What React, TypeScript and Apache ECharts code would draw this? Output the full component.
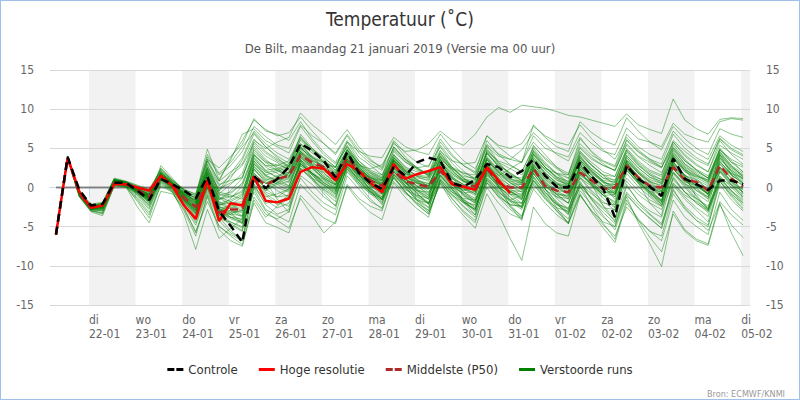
import React, { useEffect, useRef } from "react";
import * as echarts from "echarts";

// ---- time base: points every 6 h from 21-01 07:00 (local) ----
const firstHour = 7;
const stepHours = 6;

// ---- x axis day ticks (days since 21-01 00:00) ----
const tickDays = [1, 2, 3, 4, 5, 6, 7, 8, 9, 10, 11, 12, 13, 14, 15];
const dayNames = ["di", "wo", "do", "vr", "za", "zo", "ma", "di", "wo", "do", "vr", "za", "zo", "ma", "di"];
const dayDates = ["22-01", "23-01", "24-01", "25-01", "26-01", "27-01", "28-01", "29-01", "30-01", "31-01", "01-02", "02-02", "03-02", "04-02", "05-02"];
const shadedDays = [1, 3, 5, 7, 9, 11, 13, 15];

// ---- main lines ----
const controle = [-6.0, 3.9, -0.3, -2.3, -2.1, 0.6, 0.6, -0.4, -1.6, 1.1, 0.4, -0.4, -1.4, 1.4, -3.0, -4.9, -7.0, 1.5, -0.1, 1.1, 2.6, 5.6, 4.7, 3.4, 1.3, 4.5, 1.9, 0.6, -0.2, 2.6, 1.5, 3.2, 3.8, 3.4, 0.6, 0.1, 1.0, 3.0, 2.6, 1.3, 2.1, 3.6, 1.5, 0.1, 0.0, 3.2, 1.4, -0.2, -3.8, 2.8, 1.1, 0.1, -1.1, 3.7, 1.1, 0.4, -0.3, 0.9, 0.9, 0.4];
const hogeResolutie = [-6.0, 3.8, -0.5, -2.6, -2.3, 0.4, 0.4, 0.0, -0.4, 1.5, 0.2, -2.3, -4.0, 0.9, -4.3, -2.0, -2.3, 1.4, -1.7, -1.9, -1.4, 2.0, 2.6, 2.4, 0.9, 3.0, 2.1, 0.6, -0.6, 3.0, 1.1, 1.7, 2.1, 2.6, 0.4, 0.1, -0.3, 2.6, 0.9, -0.7];
const middelste = [-6.0, 3.8, -0.8, -2.5, -2.3, 0.6, 0.5, -0.3, -1.2, 1.3, 0.2, -1.3, -2.5, 0.8, -3.2, -2.8, -2.8, 1.5, 0.3, 1.1, 1.5, 4.1, 3.2, 2.6, 1.1, 3.8, 2.1, 0.9, 0.2, 2.1, 0.8, 0.4, 0.1, 2.1, 0.6, 0.1, 0.2, 2.4, 0.6, 0.0, 0.0, 2.4, 0.2, -0.4, -0.6, 1.9, 0.9, -0.2, 0.0, 2.8, 1.3, 0.2, 0.0, 2.6, 1.0, 0.7, -0.4, 2.8, 1.1, 0.1];

// ---- perturbed ensemble members ----
const run01 = [-6, 3.9, -0.6, -2.4, -2.2, 0.9, 0.6, -0.2, -0.8, 1.6, 0.4, -0.8, -1.2, 2.5, -0.5, 1.2, 3.5, 6.8, 5.2, 4.0, 3.1, 6.5, 4.8, 3.2, 2.5, 5.4, 3.0, 1.4, 0.8, 4.1, 2.2, 1.0, 0.2, 3.5, 1.3, 0.4, -0.6, 2.8, 1.5, 2.4, 3.3, 5.8, 4.2, 2.6, 1.1, 4.6, 2.9, 1.5, 0.3, 3.9, 2.0, 0.8, -0.4, 3.1, 1.6, 0.6, -0.8, 2.5, 1.8, 1.2];
const run02 = [-6, 3.8, -1.0, -2.8, -2.9, 0.5, 0.3, -0.6, -2.0, 1.0, -0.2, -2.0, -4.5, -0.5, -3.8, -5.5, -6.8, -1.2, -3.4, -4.0, -3.1, 1.5, 0.4, -1.2, -2.3, 2.0, 0.3, -1.5, -2.8, 1.4, -0.5, -2.1, -3.4, 0.8, -1.0, -2.5, -3.8, 1.2, -0.2, -1.6, -2.4, 2.3, 0.6, -0.9, -2.0, 2.8, 1.2, 0.1, -1.2, 3.5, 1.8, 0.4, -0.9, 4.2, 2.5, 1.1, -0.3, 3.8, 2.0, 0.5];
const run03 = [-6, 4.0, -0.4, -2.1, -1.9, 1.2, 0.8, 0.3, -0.2, 2.2, 0.8, -0.3, -0.8, 3.6, 2.5, 4.0, 5.5, 8.8, 7.2, 6.8, 6.0, 8.4, 6.2, 4.5, 3.2, 6.0, 3.9, 2.8, 1.6, 5.2, 3.5, 2.4, 1.5, 4.8, 2.6, 1.2, 0.4, 4.3, 2.8, 1.9, 0.9, 4.8, 3.0, 1.7, 0.5, 3.2, 1.6, 0.2, -1.5, 2.4, 0.9, -0.6, -2.2, 1.8, 0.4, -1.0, -2.8, 1.2, 0.3, -0.9];
const run04 = [-6, 3.8, -1.2, -3.1, -3.6, 0.2, 0.1, -2.5, -4.5, -0.5, -0.8, -2.8, -5.6, -1.8, -4.9, -6.2, -7.3, -2.0, -4.5, -5.1, -5.8, -1.0, -2.6, -3.9, -4.6, 0.2, -1.8, -3.2, -4.1, 0.6, -1.3, -2.7, -3.8, 1.1, -0.6, -2.0, -2.9, 2.0, 0.5, -0.8, -1.6, 2.6, 1.0, -0.4, -1.3, 3.0, 1.5, 0.3, -0.8, 3.4, 1.9, 0.6, -0.5, 2.9, 1.3, -0.2, -1.4, 2.1, 0.8, -0.6];
const run05 = [-6, 3.9, -0.9, -2.6, -2.4, 0.7, 0.5, -0.5, -1.5, 2.8, 1.2, -0.5, -2.0, 1.8, -1.5, -0.8, 0.6, 4.5, 3.2, 2.9, 2.4, 5.1, 3.6, 2.3, 1.2, 4.6, 2.5, 1.3, 0.6, 3.2, 1.5, 0.5, -0.6, 2.4, 0.8, -0.5, -1.8, 1.6, 0.2, -1.2, -2.6, 0.9, -0.8, -2.1, -3.5, 0.4, -1.4, -2.8, -4.2, -0.6, -2.2, -3.5, -4.8, 0.3, -1.5, -2.9, -4.4, 1.0, -0.7, -2.3];
const run06 = [-6, 3.9, -0.7, -2.5, -2.6, 0.8, 0.4, -0.4, -1.0, 1.8, 0.5, -1.2, -3.2, 0.6, -2.8, -3.5, -4.2, 1.8, 0.5, 1.2, 2.8, 6.2, 5.0, 3.8, 2.6, 5.8, 3.4, 2.0, 1.2, 4.6, 3.2, 2.5, 2.8, 5.2, 3.1, 1.6, 1.0, 5.5, 4.3, 3.6, 4.8, 7.0, 5.6, 4.2, 3.4, 6.4, 4.5, 3.0, 2.1, 5.6, 4.0, 3.2, 2.5, 6.0, 4.6, 3.5, 2.8, 6.3, 5.0, 4.2];
const run07 = [-6, 3.8, -1.1, -3.0, -3.2, 0.3, 0.2, -1.8, -3.9, 0.4, -0.5, -3.5, -7.9, -2.8, -6.5, -5.2, -4.0, 2.2, 0.8, -1.5, -3.2, 2.5, 1.0, -0.8, -2.4, 3.0, 1.2, 0.0, -1.5, 2.6, 0.8, -0.7, -2.2, 2.0, 0.1, -1.6, -3.1, 1.5, -0.4, -2.2, -3.8, 1.8, -0.2, -1.8, -3.2, 2.4, 0.6, -1.0, -2.5, 3.2, 1.5, -0.2, -1.8, 4.0, 2.2, 0.5, -1.0, 4.5, 2.8, 1.3];
const run08 = [-6, 3.9, -0.5, -2.3, -2.0, 1.0, 0.7, 0.1, -0.5, 2.0, 0.6, -0.6, -1.0, 4.9, 1.0, 3.5, 6.8, 7.5, 6.0, 5.2, 4.4, 7.8, 5.9, 4.2, 3.0, 5.2, 2.8, 1.0, -0.2, 3.4, 1.6, 0.2, -1.0, 2.2, 0.5, -1.1, -2.0, 2.6, 1.0, -0.5, -1.4, 3.4, 1.8, 0.6, -0.4, 4.0, 2.4, 1.2, 0.6, 4.8, 3.0, 1.8, 1.0, 5.5, 3.6, 2.2, 1.2, 5.0, 3.4, 2.0];
const run09 = [-6, 3.8, -0.8, -2.7, -2.8, 0.6, 0.3, -0.8, -2.2, 1.2, 0.0, -1.8, -3.8, 0.2, -3.4, -4.4, -5.0, 0.8, -1.0, -2.2, -1.5, 3.1, 1.6, 0.3, -0.6, 3.4, 1.2, -0.2, -1.6, 2.1, 0.2, -1.8, -3.2, 0.6, -1.9, -3.6, -5.2, -0.8, -3.4, -6.5, -9.3, -2.5, -4.6, -5.8, -6.2, -1.0, -3.0, -4.4, -5.0, 0.2, -1.8, -3.0, -3.8, 1.4, -0.6, -2.0, -3.0, 2.0, 0.4, -1.2];
const run10 = [-6, 3.9, -0.6, -2.4, -2.3, 0.9, 0.6, -0.1, -0.9, 1.7, 0.5, -0.9, -1.6, 2.8, 0.2, 1.5, 2.8, 5.6, 4.0, 3.2, 2.2, 4.8, 3.2, 2.0, 1.5, 4.4, 2.8, 2.4, 2.9, 5.6, 4.6, 4.8, 5.6, 7.2, 6.0, 5.4, 6.8, 9.0, 10.2, 9.6, 10.5, 10.3, 10.1, 9.7, 9.2, 9.0, 8.6, 8.2, 7.8, 9.4, 8.0, 7.4, 6.9, 11.3, 8.6, 7.5, 6.8, 8.7, 8.9, 8.8];
const run11 = [-6, 3.8, -0.9, -2.6, -2.5, 0.6, 0.4, -0.3, -1.3, 1.4, 0.2, -1.4, -2.6, 1.2, -2.0, -2.8, -3.6, 3.2, 1.5, 0.9, 1.8, 5.5, 3.8, 2.5, 1.6, 4.0, 2.2, 0.8, 0.2, 3.6, 2.0, 1.0, 0.5, 3.0, 1.4, 0.3, -0.4, 3.5, 1.8, 0.6, -0.3, 2.8, 1.2, 0.0, -0.9, 1.9, 0.4, -1.0, -2.2, 2.6, 0.8, -0.6, -1.6, 3.3, 1.4, 0.2, -0.6, 2.6, 1.2, 0.3];
const run12 = [-6, 3.9, -0.8, -2.5, -2.4, 0.8, 0.5, -0.4, -1.4, 1.5, 0.3, -1.1, -2.2, 2.0, -1.2, -1.8, -2.4, 4.2, 2.6, 1.8, 0.9, 4.0, 2.4, 1.0, 0.1, 3.2, 1.4, -0.2, -1.2, 2.4, 0.7, -0.8, -1.9, 1.8, 0.0, -1.5, -2.6, 2.2, 0.6, -0.9, -2.0, 2.0, 0.3, -1.4, -2.8, 1.2, -0.6, -2.3, -3.9, 0.4, -1.8, -3.4, -4.6, -0.2, -2.6, -4.2, -5.5, -2.0, -5.8, -8.7];
const run13 = [-6, 3.8, -1.0, -2.9, -3.0, 0.4, 0.2, -1.0, -2.6, 0.8, -0.4, -2.4, -4.8, -0.8, -4.2, -5.8, -6.5, -0.2, -2.8, -3.6, -4.4, 0.4, -1.2, -2.6, -3.5, 1.5, -0.2, -1.8, -2.6, 1.8, 0.2, -1.1, -2.0, 2.4, 0.6, -0.9, -1.8, 2.9, 1.1, -0.6, -1.5, 1.8, -0.1, -2.0, -3.4, 0.8, -1.5, -3.6, -5.4, -1.2, -4.5, -7.2, -10.1, -3.0, -5.4, -6.6, -7.2, -1.8, -3.5, -4.8];
const run14 = [-6, 3.9, -0.7, -2.4, -2.3, 1.0, 0.7, -0.1, -1.1, 1.9, 0.7, -0.7, -1.8, 3.0, -0.6, -1.0, -1.5, 5.0, 3.4, 2.6, 1.8, 4.6, 3.0, 1.6, 0.8, 3.8, 1.8, 0.4, -0.6, 2.9, 1.2, -0.3, -1.3, 2.7, 0.9, -0.6, -1.4, 3.8, 2.2, 1.1, 0.4, 4.2, 2.6, 1.4, 0.5, 3.6, 2.0, 0.8, -0.3, 3.0, 1.3, 0.0, -1.0, 2.6, 0.9, -0.4, -1.5, 3.3, 1.6, 0.6];
const run15 = [-6, 3.8, -0.9, -2.7, -2.7, 0.5, 0.3, -0.7, -1.8, 1.1, 0.0, -1.6, -3.0, 1.0, -2.5, -3.2, -4.6, -0.6, -3.0, -4.2, -5.2, -1.4, -3.6, -5.8, -4.4, 0.4, -1.4, -2.4, -3.0, 1.6, 0.0, -1.4, -2.5, 1.3, -0.4, -1.9, -2.8, 2.4, 0.9, -0.5, -1.2, 3.0, 1.5, 0.2, -0.7, 3.5, 1.9, 0.7, 0.0, 4.1, 2.5, 1.3, 0.5, 4.8, 3.0, 1.8, 0.9, 4.4, 2.6, 1.5];
const run16 = [-6, 3.9, -0.6, -2.3, -2.1, 1.1, 0.8, 0.2, -0.3, 2.3, 0.9, -0.2, -0.9, 3.9, 1.6, 2.8, 4.6, 7.8, 6.5, 5.4, 5.0, 8.0, 6.6, 5.6, 4.2, 6.6, 4.4, 3.1, 2.2, 5.0, 3.6, 2.6, 1.6, 4.0, 2.6, 1.9, 1.2, 4.6, 3.4, 2.8, 2.0, 5.2, 3.8, 2.6, 1.8, 5.6, 4.1, 3.3, 2.6, 6.1, 4.5, 3.4, 2.6, 5.8, 4.2, 3.0, 2.0, 5.4, 4.4, 3.6];
const run17 = [-6, 3.8, -1.1, -2.9, -3.3, 0.3, 0.1, -1.4, -3.2, 0.2, -0.6, -2.6, -5.8, -1.2, -5.4, -6.8, -7.5, -1.6, -3.8, -2.4, -0.8, 2.8, 1.8, 0.6, -0.4, 3.0, 1.4, 0.2, -0.8, 2.2, 0.6, -0.6, -1.5, 1.6, -0.2, -1.6, -2.4, 1.0, -0.8, -2.5, -3.6, 0.4, -1.5, -3.0, -4.5, -0.4, -2.2, -3.8, -5.0, -1.0, -2.6, -3.9, -5.2, 0.5, -1.2, -2.6, -3.7, 1.5, 0.0, -1.4];
const run18 = [-6, 3.9, -0.8, -2.6, -2.5, 0.7, 0.5, -0.4, -1.4, 1.6, 0.4, -1.0, -2.4, 2.2, -0.8, 0.4, 1.8, 6.0, 5.0, 5.8, 6.4, 9.5, 8.0, 6.8, 5.5, 7.4, 5.2, 3.6, 2.4, 5.8, 3.9, 2.5, 1.4, 4.4, 2.6, 1.2, 0.2, 3.6, 2.0, 0.9, 0.0, 3.8, 2.3, 1.0, 0.2, 4.4, 2.8, 1.6, 0.8, 4.6, 2.9, 1.6, 0.6, 3.9, 2.2, 0.9, -0.2, 3.2, 1.8, 0.8];
const run19 = [-6, 3.8, -0.7, -2.5, -2.4, 0.8, 0.6, -0.6, -1.7, 1.3, 0.1, -1.7, -3.4, 0.4, -3.0, -2.2, -1.2, 3.8, 2.0, 1.4, 0.6, 3.6, 2.0, 0.6, -0.3, 2.8, 0.9, -0.5, -1.4, 2.0, 0.3, -1.2, -2.1, 1.5, -0.3, -1.8, -2.8, 1.9, 0.2, -1.3, -2.1, 2.5, 0.8, -0.6, -1.5, 2.9, 1.2, -0.1, -0.9, 3.6, 2.0, 0.8, 0.1, 4.4, 2.8, 1.6, 0.7, 4.9, 3.2, 2.0];
const run20 = [-6, 3.9, -0.5, -2.2, -2.0, 1.1, 0.7, 0.0, -0.7, 2.5, 1.0, -0.4, -1.5, 3.3, 0.4, 0.9, 1.2, 5.3, 3.6, 2.4, 1.4, 4.2, 2.5, 1.1, 0.3, 3.6, 2.0, 1.2, 0.9, 4.8, 3.3, 2.2, 1.6, 5.4, 3.5, 2.1, 1.0, 6.0, 4.2, 2.9, 2.0, 5.0, 3.2, 1.8, 0.7, 4.0, 2.1, 0.6, -0.6, 3.0, 1.2, -0.4, -1.6, 2.0, 0.2, -1.4, -2.6, 1.4, -0.5, -2.0];
const run21 = [-6, 3.8, -1.0, -2.8, -2.7, 0.5, 0.2, -0.9, -2.4, 0.9, -0.3, -2.2, -4.2, -0.2, -3.6, -4.6, -5.5, 0.2, -1.6, -2.6, -2.0, 2.4, 1.0, -0.3, -1.4, 2.6, 0.8, -0.6, -1.8, 1.7, -0.1, -1.6, -2.6, 1.0, -0.8, -2.4, -3.5, 0.6, -1.2, -2.8, -3.9, -0.2, -2.0, -3.5, -4.6, -1.0, -3.0, -4.8, -6.2, -2.5, -4.2, -5.6, -6.8, -1.6, -3.8, -5.0, -6.0, -0.6, -2.8, -4.2];
const run22 = [-6, 3.9, -0.6, -2.5, -2.3, 0.9, 0.6, -0.2, -1.0, 1.7, 0.4, -0.9, -2.0, 1.5, -1.8, -2.6, -2.2, 2.6, 1.2, 0.4, -0.4, 3.1, 1.6, 0.2, -0.8, 3.8, 2.3, 1.3, 0.6, 3.9, 2.1, 0.9, 0.2, 3.2, 1.8, 0.8, 0.2, 4.4, 2.9, 1.7, 0.9, 3.6, 1.9, 0.5, -0.6, 2.4, 0.8, -0.8, -2.0, 2.2, 0.5, -1.0, -2.2, 3.0, 1.4, 0.1, -0.8, 3.6, 2.2, 1.1];
const run23 = [-6, 3.8, -0.8, -2.6, -2.6, 0.6, 0.4, -0.5, -1.6, 1.2, 0.1, -1.5, -2.9, 0.8, -2.4, -1.4, 0.2, 4.2, 2.8, 2.2, 1.5, 4.4, 2.8, 1.4, 0.6, 3.4, 1.6, 0.4, -0.3, 3.0, 1.4, 0.6, 0.0, 3.6, 2.4, 1.8, 1.6, 5.2, 4.0, 3.6, 3.2, 6.6, 5.0, 4.4, 3.9, 7.0, 5.6, 4.6, 4.2, 7.6, 6.2, 5.8, 5.2, 8.2, 6.8, 6.2, 5.8, 8.4, 8.8, 8.6];
const run24 = [-6, 3.9, -0.9, -2.7, -2.5, 0.8, 0.5, -0.3, -1.2, 1.5, 0.4, -1.3, -2.8, 1.6, -1.6, -0.4, 1.2, 5.8, 4.4, 3.4, 2.6, 6.8, 5.0, 3.6, 2.2, 4.8, 2.6, 1.2, 0.4, 3.6, 2.0, 0.8, -0.2, 3.0, 1.2, -0.2, -1.0, 3.2, 1.5, 0.2, -0.6, 2.2, 0.4, -1.2, -2.0, 1.4, -0.4, -1.8, -2.9, 1.8, 0.1, -1.2, -2.4, 1.2, -0.6, -2.0, -3.2, 0.8, -1.0, -2.6];
const run25 = [-6, 3.8, -1.2, -3.0, -3.4, 0.2, 0.0, -1.6, -3.5, 0.6, -0.6, -3.0, -6.2, -1.0, -5.0, -6.0, -6.8, 0.4, -2.2, -3.4, -2.8, 3.4, 1.2, -0.5, -1.8, 4.2, 1.8, -0.4, -2.2, 3.4, 0.8, -1.6, -3.0, 3.6, 0.6, -1.8, -3.5, 2.8, 0.2, -2.4, -4.2, 2.6, -0.2, -2.6, -4.6, 3.0, 0.4, -2.4, -4.4, 3.4, 0.6, -2.0, -3.6, 4.0, 1.4, -1.2, -2.8, 4.2, 1.6, -0.8];
const run26 = [-6, 3.9, -0.6, -2.4, -2.2, 0.9, 0.6, -0.3, -1.3, 1.8, 0.5, -1.0, -2.2, 2.4, -0.4, 1.8, 3.8, 7.2, 5.6, 4.4, 3.6, 6.4, 4.6, 3.2, 2.0, 4.4, 2.4, 1.0, 0.2, 3.2, 1.4, 0.2, -0.8, 2.8, 1.2, -0.1, -0.8, 4.8, 3.2, 2.4, 1.6, 4.6, 2.9, 1.8, 1.2, 5.0, 3.6, 2.8, 2.2, 5.4, 3.9, 2.8, 1.9, 5.0, 3.4, 2.3, 1.5, 4.8, 3.2, 2.6];
const run27 = [-6, 3.8, -0.8, -2.6, -2.4, 0.6, 0.4, -0.4, -1.4, 1.4, 0.3, -1.4, -2.6, 0.9, -3.0, -3.0, -3.2, 1.4, 0.0, 0.9, 1.4, 4.0, 3.0, 2.4, 1.0, 3.6, 1.9, 0.6, 0.0, 2.0, 0.6, 0.2, -0.2, 2.0, 0.4, -0.3, 0.0, 2.2, 0.4, -0.4, -0.3, 2.2, 0.2, -0.8, -1.0, 1.6, 0.6, -0.6, -0.4, 2.6, 1.0, 0.0, -0.4, 2.4, 0.8, 0.4, -0.8, 2.6, 0.8, -0.2];
const run28 = [-6, 3.9, -0.7, -2.5, -2.4, 0.8, 0.5, -0.3, -1.1, 1.6, 0.4, -1.2, -2.5, 1.1, -2.4, -3.0, -3.8, 2.4, 0.6, -0.4, -1.2, 3.6, 1.8, 0.4, -0.5, 4.8, 3.0, 1.8, 1.0, 4.2, 2.6, 1.4, 0.8, 4.2, 2.4, 1.1, 0.3, 3.0, 1.2, -0.2, -1.0, 1.4, -0.6, -2.2, -3.2, 0.6, -1.6, -3.2, -4.6, -0.8, -2.6, -4.0, -5.2, -0.4, -2.4, -3.8, -4.8, 0.4, -1.6, -3.0];
const run29 = [-6, 3.8, -0.9, -2.7, -2.6, 0.5, 0.3, -0.6, -1.7, 1.2, 0.1, -1.6, -3.0, 0.5, -2.6, -3.8, -4.0, 1.0, -0.4, 0.6, 1.8, 5.0, 3.8, 3.2, 2.6, 5.8, 4.6, 4.0, 3.8, 6.4, 5.2, 4.6, 4.2, 6.8, 5.0, 3.4, 2.4, 5.4, 3.2, 1.6, 0.6, 3.2, 1.4, 0.0, -0.8, 2.6, 1.0, -0.4, -1.2, 2.8, 1.2, 0.0, -0.6, 3.6, 2.2, 1.4, 1.0, 4.8, 3.6, 2.8];
const run30 = [-6, 3.9, -0.5, -2.3, -2.1, 1.0, 0.7, 0.0, -0.6, 2.1, 0.8, -0.5, -1.3, 3.4, 0.8, 2.0, 3.0, 6.2, 4.6, 3.6, 2.8, 5.6, 3.9, 2.6, 1.8, 4.9, 3.1, 2.0, 1.4, 5.2, 3.6, 2.4, 1.8, 5.8, 4.0, 2.8, 2.0, 6.6, 5.2, 4.0, 3.2, 8.0, 6.4, 5.2, 4.6, 8.4, 7.0, 6.0, 5.4, 8.9, 7.2, 5.8, 4.8, 7.8, 6.2, 5.0, 4.2, 7.5, 6.8, 6.4];
const run31 = [-6, 3.8, -1.0, -2.8, -2.8, 0.4, 0.3, -0.8, -2.2, 1.0, -0.2, -1.9, -3.6, 0.0, -3.2, -4.0, -4.6, 0.9, -0.8, -1.8, -2.4, 1.2, -0.6, -2.0, -2.8, 2.2, 0.4, -0.8, -1.6, 2.8, 1.0, -0.4, -1.2, 3.0, 1.4, 0.0, -0.8, 3.6, 2.0, 0.6, -0.2, 4.2, 2.6, 1.2, 0.4, 3.8, 2.2, 0.8, 0.1, 3.2, 1.4, 0.0, -1.0, 2.4, 0.6, -0.8, -1.8, 2.0, 0.2, -1.2];
const run32 = [-6, 3.9, -0.8, -2.6, -2.5, 0.7, 0.4, -0.5, -1.5, 1.4, 0.2, -1.3, -2.7, 1.3, -2.2, -2.0, -1.8, 3.4, 1.6, 0.8, 0.2, 3.8, 2.4, 1.2, 0.3, 3.3, 1.6, 0.3, -0.6, 2.6, 1.0, -0.4, -1.5, 2.2, 0.5, -1.0, -2.0, 1.8, 0.0, -1.8, -2.8, 0.9, -1.2, -3.0, -4.6, -0.8, -3.2, -5.2, -7.0, -2.0, -4.0, -5.6, -6.2, -0.8, -2.8, -4.2, -5.0, 0.8, -1.2, -2.8];
const run33 = [-6, 3.8, -0.7, -2.5, -2.5, 0.7, 0.5, -0.2, -1.0, 1.9, 0.6, -0.8, -1.9, 2.6, -0.2, 0.6, 1.4, 4.8, 3.2, 2.2, 1.2, 4.4, 2.6, 1.2, 0.4, 3.6, 2.0, 0.9, 0.4, 3.8, 2.4, 1.5, 1.2, 4.6, 3.4, 3.0, 3.2, 6.6, 5.4, 5.0, 5.6, 7.8, 6.6, 5.8, 5.4, 8.0, 6.2, 4.8, 3.6, 6.4, 4.8, 3.6, 2.6, 5.2, 3.4, 2.2, 1.2, 4.2, 2.6, 1.6];
const run34 = [-6, 3.9, -0.8, -2.5, -2.3, 0.9, 0.6, -0.4, -1.6, 1.2, 0.2, -1.6, -3.3, 0.6, -3.6, -4.8, -5.6, 1.2, -0.6, -1.2, -0.2, 3.0, 1.8, 0.8, 0.0, 2.6, 0.9, -0.6, -1.5, 1.2, -0.6, -2.0, -2.9, 0.4, -1.4, -3.0, -4.2, 0.0, -2.0, -3.4, -4.0, 1.4, -0.6, -2.0, -2.8, 2.0, 0.4, -1.0, -1.8, 2.2, 0.6, -0.8, -1.8, 2.8, 1.0, -0.4, -1.2, 3.0, 1.6, 0.4];
const run35 = [-6, 3.8, -0.6, -2.4, -2.2, 1.0, 0.7, 0.1, -0.6, 2.4, 0.9, -0.3, -1.1, 4.2, 1.8, 3.2, 5.2, 7.0, 5.2, 3.8, 2.6, 5.2, 3.4, 1.8, 0.8, 3.4, 1.6, 0.2, -0.8, 2.4, 0.6, -0.9, -2.0, 1.6, -0.2, -1.8, -2.8, 1.0, -0.6, -1.6, -1.0, 3.4, 2.4, 1.8, 1.6, 5.2, 3.8, 2.8, 2.2, 6.0, 4.6, 3.6, 3.0, 6.8, 5.0, 3.8, 3.0, 6.2, 4.8, 4.0];
const run36 = [-6, 3.9, -0.9, -2.7, -2.6, 0.6, 0.4, -0.7, -1.9, 1.1, 0.0, -1.7, -3.2, 0.8, -2.8, -3.4, -2.8, 2.8, 1.0, 0.0, -0.6, 2.8, 1.2, -0.2, -1.2, 2.4, 0.6, -0.8, -2.0, 1.4, -0.6, -2.2, -3.4, 0.9, -1.4, -3.2, -4.5, 0.6, -1.2, -2.2, -2.4, 2.8, 1.4, 0.4, 0.2, 4.6, 3.2, 2.0, 1.4, 5.0, 3.4, 2.2, 1.6, 5.8, 4.0, 2.8, 2.0, 6.0, 4.2, 3.0];
const run37 = [-6, 3.8, -0.8, -2.5, -2.4, 0.8, 0.5, -0.2, -1.2, 1.7, 0.6, -0.8, -1.7, 2.2, -0.9, -1.2, -0.6, 4.0, 2.2, 1.2, 0.2, 3.4, 1.6, 0.0, -1.0, 2.8, 1.0, -0.4, -1.2, 3.4, 1.8, 0.6, 0.0, 3.8, 2.2, 0.9, 0.2, 3.0, 1.0, -0.4, -1.4, 2.4, 0.6, -0.9, -2.0, 2.0, 0.2, -1.4, -2.6, 2.4, 0.8, -0.6, -1.8, 3.2, 1.6, 0.2, -0.8, 2.4, 0.6, -0.6];
const run38 = [-6, 3.9, -0.6, -2.4, -2.3, 1.0, 0.6, -0.2, -0.8, 2.0, 0.7, -0.6, -1.4, 3.6, 0.8, 3.8, 6.0, 8.6, 7.4, 6.6, 7.0, 9.0, 7.2, 5.6, 4.4, 6.8, 4.8, 3.4, 2.6, 6.0, 4.4, 3.2, 2.6, 6.2, 4.2, 2.8, 1.8, 5.0, 3.0, 1.8, 0.8, 4.4, 2.6, 1.2, 0.2, 3.4, 1.6, 0.2, -0.8, 2.6, 0.8, -0.8, -2.0, 1.8, 0.0, -1.6, -3.0, 1.2, -0.4, -1.8];
const run39 = [-6, 3.8, -1.0, -2.8, -3.0, 0.4, 0.2, -1.2, -2.8, 0.7, -0.4, -2.3, -4.0, 0.0, -3.0, -3.8, -4.4, 1.6, -0.2, -1.2, -1.0, 3.4, 1.8, 0.6, -0.2, 3.6, 1.8, 0.4, -0.4, 3.0, 1.2, -0.2, -1.0, 2.6, 0.8, -0.8, -1.6, 2.2, 0.2, -1.6, -2.6, 1.2, -1.0, -2.8, -4.0, 0.2, -2.4, -4.6, -6.6, -1.6, -4.2, -6.4, -8.2, -3.4, -5.6, -6.8, -7.4, -2.2, -4.8, -6.4];
const run40 = [-6, 3.9, -0.7, -2.5, -2.4, 0.8, 0.5, -0.3, -1.3, 1.5, 0.4, -1.1, -2.3, 1.9, -1.3, -2.2, -3.0, 3.0, 1.4, 0.6, 0.0, 4.6, 2.8, 1.4, 0.4, 4.2, 2.4, 1.0, 0.3, 3.5, 1.8, 0.7, 0.2, 4.0, 2.2, 0.8, 0.0, 4.6, 2.6, 1.2, 0.6, 5.4, 3.6, 2.4, 1.6, 6.2, 4.6, 3.4, 2.8, 6.8, 5.2, 4.2, 3.6, 7.2, 5.6, 4.4, 3.6, 6.6, 5.4, 4.6];
const run41 = [-6, 3.9, -0.7, -2.4, -2.3, 0.7, 0.5, -0.2, -1.1, 1.4, 0.3, -1.2, -2.4, 1.2, -2.6, -2.4, -2.0, 2.4, 0.9, 1.5, 2.0, 4.6, 3.5, 2.8, 1.6, 4.2, 2.4, 1.2, 0.5, 2.8, 1.3, 0.8, 0.5, 2.9, 1.1, 0.4, 0.5, 3.2, 1.2, 0.3, 0.4, 3.0, 1.0, 0.0, -0.2, 2.6, 1.3, 0.2, 0.4, 3.4, 1.8, 0.7, 0.3, 3.2, 1.5, 1.0, 0.2, 3.4, 1.6, 0.6];
const run42 = [-6, 3.8, -0.9, -2.6, -2.5, 0.5, 0.4, -0.5, -1.5, 1.1, 0.0, -1.6, -3.0, 0.4, -3.6, -3.4, -3.6, 0.8, -0.4, 0.4, 0.8, 3.5, 2.5, 1.9, 0.4, 3.2, 1.5, 0.2, -0.4, 1.6, 0.2, -0.4, -0.6, 1.5, 0.0, -0.7, -0.5, 1.8, 0.0, -0.9, -0.8, 1.8, -0.3, -1.2, -1.4, 1.2, 0.2, -1.0, -0.9, 2.2, 0.6, -0.5, -0.9, 2.0, 0.4, -0.1, -1.2, 2.2, 0.4, -0.6];
const run43 = [-6, 3.9, -0.6, -2.3, -2.2, 0.9, 0.6, -0.1, -0.9, 1.6, 0.5, -0.8, -1.8, 2.0, -1.5, -1.2, -0.4, 3.6, 2.2, 2.4, 3.0, 5.6, 4.4, 3.4, 2.2, 4.8, 3.0, 1.8, 1.2, 3.8, 2.2, 1.6, 1.4, 3.9, 2.0, 1.0, 0.9, 4.0, 2.2, 1.0, 0.8, 4.2, 2.2, 0.9, 0.4, 3.8, 2.4, 1.2, 1.0, 4.4, 2.8, 1.6, 1.0, 4.6, 2.6, 1.6, 0.8, 4.2, 2.4, 1.4];
const run44 = [-6, 3.8, -0.8, -2.5, -2.4, 0.6, 0.4, -0.3, -1.3, 1.3, 0.2, -1.4, -2.8, 0.7, -3.3, -3.8, -4.5, 0.5, -1.2, -0.8, -0.2, 3.0, 1.8, 1.0, -0.2, 2.8, 1.0, -0.2, -0.9, 1.2, -0.3, -1.0, -1.4, 1.0, -0.6, -1.4, -1.6, 1.2, -0.6, -1.8, -2.0, 0.9, -1.0, -2.2, -2.6, 0.4, -0.8, -2.0, -2.2, 1.2, -0.4, -1.6, -2.4, 1.0, -0.6, -1.4, -2.4, 1.2, -0.4, -1.6];
const run45 = [-6, 3.9, -0.8, -2.6, -2.4, 0.7, 0.5, -0.3, -1.2, 1.5, 0.3, -1.3, -2.6, 1.0, -2.9, -2.6, -2.6, 1.8, 0.5, 1.3, 1.9, 4.4, 3.4, 2.7, 1.3, 3.9, 2.2, 1.0, 0.4, 2.5, 1.0, 0.5, 0.3, 2.5, 0.8, 0.1, 0.2, 2.8, 0.8, -0.1, 0.0, 2.7, 0.6, -0.4, -0.6, 2.2, 0.9, -0.3, -0.1, 3.0, 1.4, 0.3, -0.1, 2.8, 1.1, 0.6, -0.3, 3.0, 1.2, 0.2];
const run46 = [-6, 3.8, -0.7, -2.5, -2.3, 0.8, 0.5, -0.2, -1.0, 1.5, 0.4, -1.0, -2.0, 1.6, -2.2, -1.8, -1.0, 3.0, 1.6, 2.0, 2.6, 5.0, 3.8, 3.0, 1.8, 4.4, 2.6, 1.5, 0.9, 3.4, 1.8, 1.2, 1.0, 3.4, 1.6, 0.7, 0.6, 3.6, 1.6, 0.6, 0.4, 3.6, 1.6, 0.4, 0.0, 3.2, 1.8, 0.6, 0.4, 3.8, 2.2, 1.0, 0.5, 3.8, 2.0, 1.3, 0.4, 3.8, 2.0, 1.0];
const run47 = [-6, 3.9, -0.9, -2.7, -2.6, 0.5, 0.3, -0.6, -1.7, 1.0, -0.1, -1.8, -3.4, 0.0, -4.0, -4.4, -5.2, 0.0, -2.0, -1.8, -1.2, 2.4, 1.2, 0.4, -0.8, 2.4, 0.6, -0.6, -1.4, 0.8, -0.8, -1.6, -2.0, 0.6, -1.0, -1.9, -2.2, 0.8, -1.0, -2.2, -2.4, 0.6, -1.4, -2.6, -3.0, 0.0, -1.3, -2.6, -2.8, 0.8, -0.9, -2.0, -2.8, 0.6, -1.0, -1.8, -2.8, 0.8, -0.9, -2.0];
const run48 = [-6, 3.8, -0.7, -2.4, -2.3, 0.8, 0.6, -0.2, -1.0, 1.7, 0.5, -0.9, -2.1, 1.8, -2.0, -1.6, -0.8, 3.4, 1.9, 2.2, 2.8, 5.2, 4.0, 3.2, 1.9, 4.6, 2.8, 1.6, 1.0, 3.6, 2.0, 1.4, 1.2, 3.6, 1.8, 0.8, 0.7, 3.8, 1.9, 0.8, 0.6, 3.9, 1.9, 0.6, 0.2, 3.5, 2.1, 0.9, 0.7, 4.1, 2.5, 1.3, 0.8, 4.2, 2.3, 1.5, 0.6, 4.0, 2.2, 1.2];
const run49 = [-6, 3.9, -0.8, -2.5, -2.4, 0.6, 0.4, -0.4, -1.3, 1.2, 0.2, -1.5, -2.9, 0.6, -3.4, -3.2, -3.0, 1.2, 0.0, 0.6, 1.2, 3.8, 2.8, 2.2, 0.8, 3.5, 1.7, 0.5, -0.1, 2.0, 0.5, 0.0, -0.2, 2.0, 0.3, -0.4, -0.2, 2.2, 0.3, -0.6, -0.5, 2.1, 0.1, -0.9, -1.1, 1.6, 0.4, -0.7, -0.6, 2.5, 0.9, -0.2, -0.6, 2.4, 0.7, 0.2, -0.9, 2.5, 0.7, -0.3];
const run50 = [-6, 3.8, -0.6, -2.4, -2.3, 0.9, 0.6, -0.1, -0.8, 1.8, 0.6, -0.7, -1.6, 2.4, -1.0, -0.6, 0.4, 4.2, 2.8, 2.8, 3.4, 6.0, 4.8, 3.8, 2.6, 5.2, 3.4, 2.2, 1.6, 4.2, 2.6, 2.0, 1.8, 4.4, 2.4, 1.4, 1.2, 4.4, 2.6, 1.4, 1.2, 4.6, 2.6, 1.3, 0.8, 4.2, 2.8, 1.6, 1.4, 4.8, 3.2, 2.0, 1.4, 5.0, 3.0, 2.0, 1.2, 4.6, 2.8, 1.8];

const verstoordeRuns = [run01, run02, run03, run04, run05, run06, run07, run08, run09, run10, run11, run12, run13, run14, run15, run16, run17, run18, run19, run20, run21, run22, run23, run24, run25, run26, run27, run28, run29, run30, run31, run32, run33, run34, run35, run36, run37, run38, run39, run40, run41, run42, run43, run44, run45, run46, run47, run48, run49, run50];

const FONT = "'DejaVu Sans Condensed', 'Liberation Sans Narrow', 'DejaVu Sans', sans-serif";
const DASH_ICON = "path://M0,0H7V3H0Z M9,0H16V3H9Z";
const SOLID_ICON = "path://M0,0H16V3H0Z";

const dayOf = (i: number) => (firstHour + i * stepHours) / 24;
const toPairs = (vals: number[]) => vals.map((v, i) => [dayOf(i), v]);

export default function App() {
  const ref = useRef<HTMLDivElement>(null);

  useEffect(() => {
    if (!ref.current) return;
    const chart = echarts.init(ref.current, undefined, { renderer: "svg" });

    const lastIdx = controle.length - 1;
    const greenSeries = verstoordeRuns.map((run) => ({
      name: "Verstoorde runs",
      type: "line",
      data: toPairs(run),
      symbol: "none",
      silent: true,
      z: 3,
      color: "#008000",
      lineStyle: { color: "rgba(0,128,0,0.45)", width: 1 },
    }));

    const option: any = {
      animation: false,
      backgroundColor: "#ffffff",
      textStyle: { fontFamily: FONT },
      title: [
        {
          text: "Temperatuur (˚C)",
          left: "center",
          top: 4,
          textStyle: { fontFamily: FONT, fontSize: 19, fontWeight: "normal", color: "#333333" },
        },
        {
          text: "De Bilt, maandag 21 januari 2019 (Versie ma 00 uur)",
          left: "center",
          top: 37,
          textStyle: { fontFamily: FONT, fontSize: 13, fontWeight: "normal", color: "#555555" },
        },
        {
          text: "Bron: ECMWF/KNMI",
          right: 10,
          top: 384,
          textStyle: { fontFamily: FONT, fontSize: 9, fontWeight: "normal", color: "#999999" },
        },
      ],
      legend: {
        top: 358,
        left: "center",
        itemWidth: 16,
        itemHeight: 3,
        itemGap: 21,
        textStyle: { fontFamily: FONT, fontSize: 13, color: "#333333" },
        data: [
          { name: "Controle", icon: DASH_ICON, itemStyle: { color: "#000000" } },
          { name: "Hoge resolutie", icon: SOLID_ICON, itemStyle: { color: "#ff0000" } },
          { name: "Middelste (P50)", icon: DASH_ICON, itemStyle: { color: "#b02a2a" } },
          { name: "Verstoorde runs", icon: SOLID_ICON, itemStyle: { color: "#008000", opacity: 1 } },
        ],
      },
      grid: { left: 50, right: 50, top: 70, bottom: 95 },
      xAxis: {
        type: "value",
        min: 0.163,
        max: 15.19,
        axisLine: { show: true, lineStyle: { color: "#ccd6eb", width: 1 } },
        axisTick: { show: true, length: 10, lineStyle: { color: "#ccd6eb" }, customValues: tickDays },
        axisLabel: {
          customValues: tickDays,
          align: "left",
          margin: 8,
          fontFamily: FONT,
          fontSize: 12,
          lineHeight: 14,
          color: "#666666",
          formatter: (v: number) => {
            const k = Math.round(v) - 1;
            return `${dayNames[k]}\n${dayDates[k]}`;
          },
        },
        splitLine: { show: false },
      },
      yAxis: [
        {
          type: "value",
          min: -15,
          max: 15,
          interval: 5,
          position: "left",
          axisLine: { show: false },
          axisTick: { show: false },
          axisLabel: { margin: 16, fontFamily: FONT, fontSize: 12, color: "#666666" },
          splitLine: { show: true, lineStyle: { color: "#d8d8d8", width: 1 } },
        },
        {
          type: "value",
          min: -15,
          max: 15,
          interval: 5,
          position: "right",
          axisLine: { show: false },
          axisTick: { show: false },
          axisLabel: { margin: 16, fontFamily: FONT, fontSize: 12, color: "#666666" },
          splitLine: { show: false },
        },
      ],
      series: [
        {
          name: "bands",
          type: "custom",
          silent: true,
          z: -1,
          data: shadedDays.map((d) => [d, 0]),
          encode: { x: 0, y: 1 },
          renderItem: (params: any, api: any) => {
            const s = api.value(0);
            const p1 = api.coord([s, 15]);
            const p2 = api.coord([s + 1, -15]);
            const cs = params.coordSys;
            const shape = echarts.graphic.clipRectByRect(
              { x: p1[0], y: p1[1], width: p2[0] - p1[0], height: p2[1] - p1[1] },
              { x: cs.x, y: cs.y, width: cs.width, height: cs.height }
            );
            if (!shape) return null;
            return { type: "rect", shape, style: { fill: "#f2f2f2" } };
          },
        },
        {
          name: "nul",
          type: "line",
          data: [[dayOf(0), 0], [dayOf(lastIdx), 0]],
          symbol: "none",
          silent: true,
          z: 2,
          lineStyle: { color: "rgba(80,80,80,0.65)", width: 2 },
        },
        ...greenSeries,
        {
          name: "Middelste (P50)",
          type: "line",
          data: toPairs(middelste),
          symbol: "none",
          z: 5,
          color: "#b02a2a",
          lineStyle: { color: "#b02a2a", width: 2.5, type: [8, 5] },
        },
        {
          name: "Hoge resolutie",
          type: "line",
          data: toPairs(hogeResolutie),
          symbol: "none",
          z: 6,
          color: "#ff0000",
          lineStyle: { color: "#ff0000", width: 2.5 },
        },
        {
          name: "Controle",
          type: "line",
          data: toPairs(controle),
          symbol: "none",
          z: 7,
          color: "#000000",
          lineStyle: { color: "#000000", width: 2.5, type: [8, 5] },
        },
      ],
    };

    chart.setOption(option);
    return () => chart.dispose();
  }, []);

  return (
    <>
      <div ref={ref} style={{ position: "fixed", left: 0, top: 0, width: 800, height: 400 }} />
      <div
        style={{
          position: "fixed",
          left: 0,
          top: 0,
          width: 800,
          height: 400,
          boxSizing: "border-box",
          border: "1px solid #9fc0ea",
          pointerEvents: "none",
        }}
      />
    </>
  );
}
